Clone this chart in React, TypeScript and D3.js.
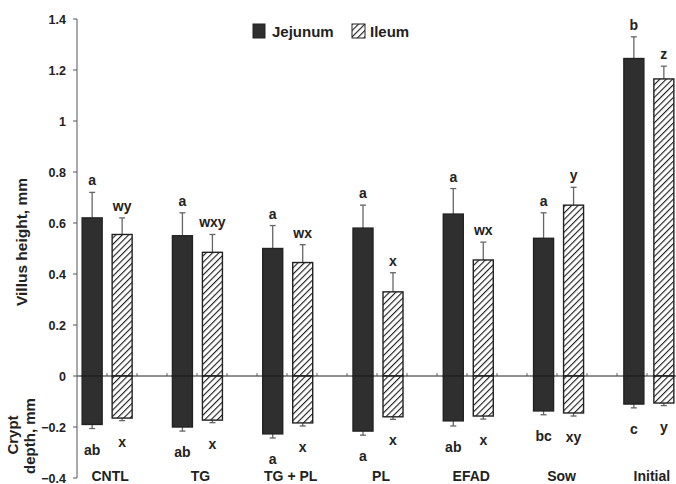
import React from "react";
import * as d3 from "d3";

const categories = ["CNTL", "TG", "TG + PL", "PL", "EFAD", "Sow", "Initial"];
const jejunumVillus = [0.62, 0.55, 0.50, 0.58, 0.635, 0.54, 1.245];
const jejunumVillusErr = [0.10, 0.09, 0.09, 0.09, 0.10, 0.10, 0.085];
const ileumVillus = [0.555, 0.485, 0.445, 0.33, 0.455, 0.67, 1.165];
const ileumVillusErr = [0.065, 0.07, 0.07, 0.075, 0.07, 0.07, 0.05];
const jejunumCrypt = [-0.19, -0.20, -0.227, -0.216, -0.176, -0.137, -0.11];
const jejunumCryptErr = [0.016, 0.016, 0.016, 0.016, 0.02, 0.015, 0.015];
const ileumCrypt = [-0.165, -0.173, -0.184, -0.16, -0.157, -0.145, -0.106];
const ileumCryptErr = [0.01, 0.01, 0.012, 0.01, 0.012, 0.012, 0.01];
const jejunumVillusLetters = ["a", "a", "a", "a", "a", "a", "b"];
const ileumVillusLetters = ["wy", "wxy", "wx", "x", "wx", "y", "z"];
const jejunumCryptLetters = ["ab", "ab", "a", "a", "ab", "bc", "c"];
const ileumCryptLetters = ["x", "x", "x", "x", "x", "xy", "y"];
const yTicks = [-0.4, -0.2, 0, 0.2, 0.4, 0.6, 0.8, 1, 1.2, 1.4];

const FONT = "'Liberation Sans', Arial, sans-serif";

export default function App() {
  const W = 676;
  const H = 484;
  const axisX = 77;
  const y = d3.scaleLinear().domain([-0.4, 1.4]).range([478, 19]);
  const x = d3.scaleBand<string>().domain(categories).range([62, 694]).padding(0);
  const bw = 20;
  const gap = 5;
  const dark = "#2f2f2f";

  const fmt = (v: number) => (Math.abs(v) < 1e-9 ? "0" : d3.format("")(+v.toFixed(1)));

  const bars: any[] = [];
  categories.forEach((c, i) => {
    const cx = (x(c) as number) + x.bandwidth() / 2;
    bars.push({ key: "jv" + i, x0: cx - gap - bw, v: jejunumVillus[i], e: jejunumVillusErr[i], lab: jejunumVillusLetters[i], fill: dark });
    bars.push({ key: "iv" + i, x0: cx + gap, v: ileumVillus[i], e: ileumVillusErr[i], lab: ileumVillusLetters[i], fill: "url(#hatch)" });
    bars.push({ key: "jc" + i, x0: cx - gap - bw, v: jejunumCrypt[i], e: jejunumCryptErr[i], lab: jejunumCryptLetters[i], fill: dark });
    bars.push({ key: "ic" + i, x0: cx + gap, v: ileumCrypt[i], e: ileumCryptErr[i], lab: ileumCryptLetters[i], fill: "url(#hatch)" });
  });

  const minorTicks: number[] = [];
  for (let t = 107; t < W; t += 30) minorTicks.push(t);

  return (
    <svg width={W} height={H} style={{ position: "fixed", left: 0, top: 0, background: "#fff" }} fontFamily={FONT}>
      <defs>
        <pattern id="hatch" patternUnits="userSpaceOnUse" width="4.5" height="4.5" patternTransform="rotate(45)">
          <rect width="4.5" height="4.5" fill="#fff" />
          <line x1="0" y1="0" x2="0" y2="4.5" stroke="#1a1a1a" strokeWidth="2.2" />
        </pattern>
      </defs>
      <rect width={W} height={H} fill="#fff" />

      {/* bars */}
      {bars.map((b) => {
        const top = y(Math.max(0, b.v));
        const bot = y(Math.min(0, b.v));
        const ev = b.v >= 0 ? b.v + b.e : b.v - b.e;
        const cx = b.x0 + bw / 2;
        const ey = y(ev);
        const labY = b.v >= 0 ? ey - 7 : ey + 26;
        return (
          <g key={b.key}>
            <line x1={cx} x2={cx} y1={y(b.v)} y2={ey} stroke="#666" strokeWidth={1.3} />
            <line x1={cx - 3} x2={cx + 3} y1={ey} y2={ey} stroke="#666" strokeWidth={1.3} />
            <rect x={b.x0} y={top} width={bw} height={bot - top} fill={b.fill} stroke="#222" strokeWidth={1.4} />
            <text x={cx} y={labY} textAnchor="middle" fontSize={14} fontWeight="bold" fill="#222">{b.lab}</text>
          </g>
        );
      })}

      {/* zero line */}
      <line x1={axisX} x2={W} y1={y(0)} y2={y(0)} stroke="#222" strokeWidth={1} />
      {minorTicks.map((t) => (
        <line key={t} x1={t} x2={t} y1={y(0)} y2={y(0) - 3} stroke="#444" strokeWidth={0.8} />
      ))}

      {/* y axis */}
      <line x1={axisX} x2={axisX} y1={y(1.4)} y2={y(-0.4)} stroke="#555" strokeWidth={1} />
      {yTicks.map((t) => (
        <g key={t}>
          <line x1={axisX - 4} x2={axisX} y1={y(t)} y2={y(t)} stroke="#555" strokeWidth={1} />
          <text x={axisX - 11} y={y(t) + 4.5} textAnchor="end" fontSize={12.5} fontWeight="bold" fill="#222">{fmt(t)}</text>
        </g>
      ))}

      {/* axis titles */}
      <text transform={`translate(27,242) rotate(-90)`} textAnchor="middle" fontSize={15.5} fontWeight="bold" fill="#222">Villus height, mm</text>
      <text transform={`translate(18,435) rotate(-90)`} textAnchor="middle" fontSize={15} fontWeight="bold" fill="#222">Crypt</text>
      <text transform={`translate(35,436) rotate(-90)`} textAnchor="middle" fontSize={15} fontWeight="bold" fill="#222">depth, mm</text>

      {/* category labels */}
      {categories.map((c) => (
        <text key={c} x={(x(c) as number) + x.bandwidth() / 2 + 3} y={481} textAnchor="middle" fontSize={14} fontWeight="bold" fill="#222">{c}</text>
      ))}

      {/* legend */}
      <rect x={253} y={24} width={12} height={14} fill={dark} stroke="#222" strokeWidth={1} />
      <text x={272} y={37} fontSize={15} fontWeight="bold" fill="#222">Jejunum</text>
      <rect x={352} y={24} width={13} height={14} fill="url(#hatch)" stroke="#222" strokeWidth={1} />
      <text x={370} y={37} fontSize={15} fontWeight="bold" fill="#222">Ileum</text>
    </svg>
  );
}
